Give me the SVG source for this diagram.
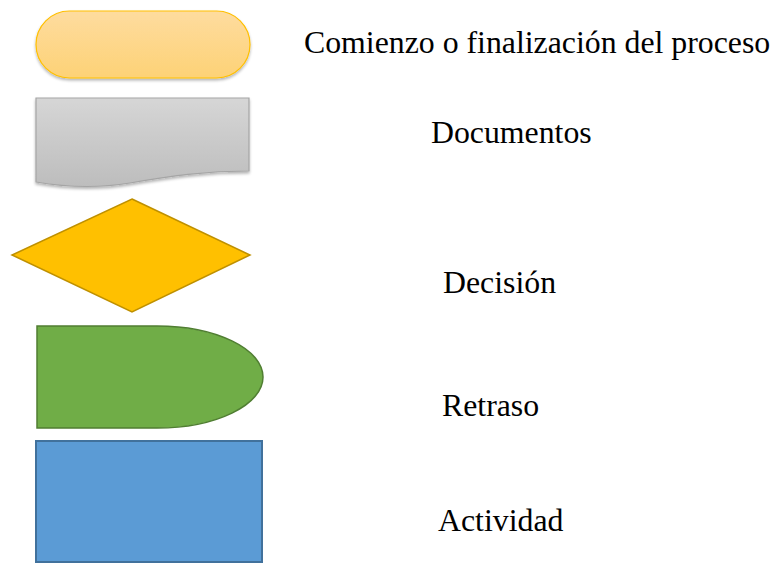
<svg xmlns="http://www.w3.org/2000/svg" width="777" height="565" viewBox="0 0 777 565">
<defs>
<linearGradient id="gT" x1="0" y1="0" x2="0" y2="1"><stop offset="0" stop-color="#fedc9f"/><stop offset="1" stop-color="#fdd276"/></linearGradient>
<linearGradient id="gD" x1="0" y1="0" x2="0" y2="1"><stop offset="0" stop-color="#d6d6d6"/><stop offset="1" stop-color="#bdbdbd"/></linearGradient>
<filter id="sh" x="-10%" y="-10%" width="120%" height="130%"><feGaussianBlur in="SourceAlpha" stdDeviation="1.5"/><feOffset dy="2"/><feComponentTransfer><feFuncA type="linear" slope="0.3"/></feComponentTransfer><feMerge><feMergeNode/><feMergeNode in="SourceGraphic"/></feMerge></filter>
</defs>
<style>
.lbl{font-family:'Liberation Serif',serif;font-size:31.8px;fill:#000}
</style>
<rect width="777" height="565" fill="#fff"/>
<g id="terminator"><rect x="36" y="11" width="214" height="67" rx="33.5" fill="url(#gT)" stroke="#ffbf00" stroke-width="1.2" filter="url(#sh)"/></g>
<g id="document"><path d="M36,98 H249 V171 C205,171 170,176 130,183 C100,188 65,187 36,182 Z" fill="url(#gD)" stroke="#a5a5a5" stroke-width="1.2" filter="url(#sh)"/></g>
<g id="decision"><polygon points="132,199 250,255 132,312 12,255" fill="#ffc000" stroke="#bf9000" stroke-width="1.5"/></g>
<g id="delay"><path d="M37,326 H157 A106,51 0 0 1 157,428 H37 Z" fill="#70ad47" stroke="#507e32" stroke-width="1.5"/></g>
<g id="activity"><rect x="36" y="441" width="226" height="121" fill="#5b9bd5" stroke="#41719c" stroke-width="2"/></g>
<g id="labels" font-family="Liberation Serif, serif">
<text class="lbl" x="304" y="53">Comienzo o finalización del proceso</text>
<text class="lbl" x="431" y="143">Documentos</text>
<text class="lbl" x="443" y="293">Decisión</text>
<text class="lbl" x="442" y="416">Retraso</text>
<text class="lbl" x="438" y="531">Actividad</text>
</g>
</svg>
